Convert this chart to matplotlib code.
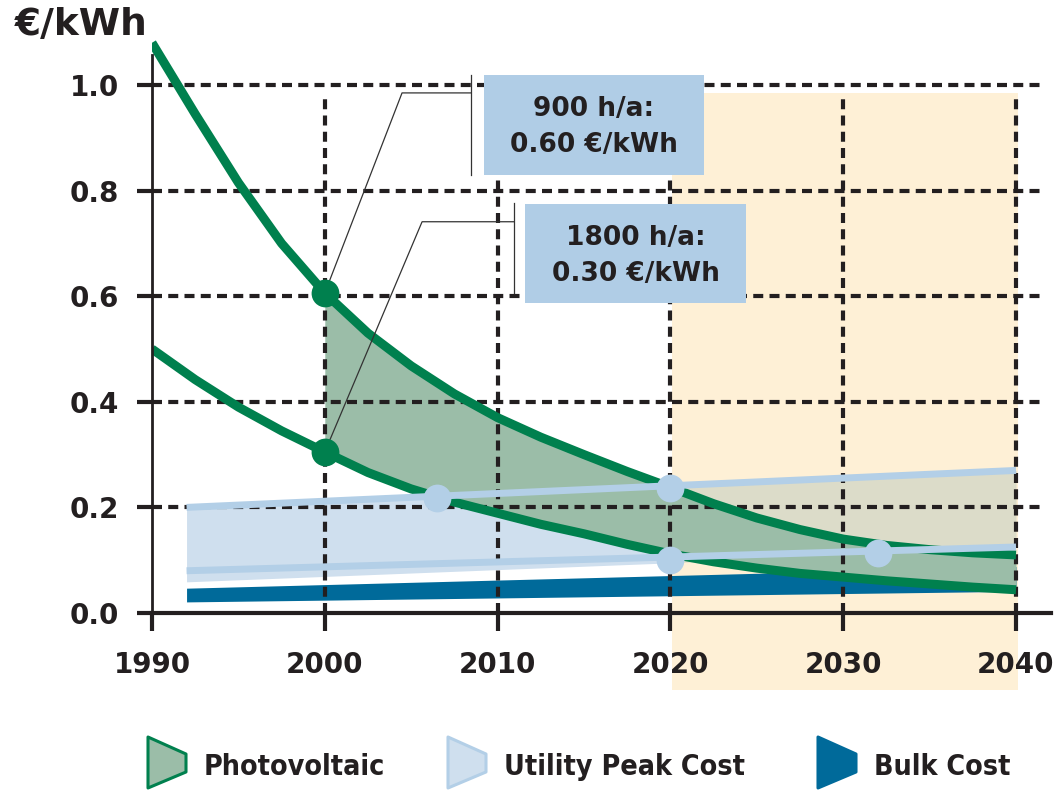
import numpy as np
import matplotlib
matplotlib.use('Agg')
import matplotlib.pyplot as plt
from matplotlib.patches import Rectangle, Polygon

# --- data ---
years = np.array([1990, 1992.5, 1995, 1997.5, 2000, 2002.5, 2005, 2007.5, 2010, 2012.5,
                  2015, 2017.5, 2020, 2022.5, 2025, 2027.5, 2030, 2032.5, 2035, 2037.5, 2040])
pv_900 = np.array([1.08, 0.945, 0.815, 0.70, 0.606, 0.53, 0.468, 0.415, 0.37, 0.333,
                   0.30, 0.268, 0.238, 0.207, 0.18, 0.158, 0.14, 0.128, 0.12, 0.114, 0.11])
pv_1800 = np.array([0.50, 0.442, 0.39, 0.345, 0.305, 0.266, 0.235, 0.21, 0.189, 0.168,
                    0.15, 0.13, 0.112, 0.097, 0.085, 0.075, 0.068, 0.061, 0.055, 0.049, 0.044])

util_years = np.array([1992, 2020, 2040])
util_high = np.array([0.20, 0.241, 0.27])
util_low = np.array([0.08, 0.106, 0.125])
util_band_bottom = np.array([0.059, 0.095, 0.125])

bulk_years = np.array([1992, 2040])
bulk_high = np.array([0.047, 0.088])
bulk_low = np.array([0.021, 0.041])

pv_mark_x = [2000, 2000]
pv_mark_y = [0.606, 0.305]
cross_x = [2006.5, 2020, 2020, 2032]
cross_y = [0.218, 0.236, 0.100, 0.114]

x_ticks = [1990, 2000, 2010, 2020, 2030, 2040]
y_ticks = [0.0, 0.2, 0.4, 0.6, 0.8, 1.0]
callouts = ['900 h/a:\n0.60 €/kWh', '1800 h/a:\n0.30 €/kWh']
legend_labels = ['Photovoltaic', 'Utility Peak Cost', 'Bulk Cost']

# colours
GREEN = '#00804e'
PV_FILL = '#9bbda8'
LBLUE = '#b3cfe7'
UTIL_FILL = '#cfdfee'
UTIL_ON_BEIGE = '#dcdcc9'
BULK = '#006a9a'
BEIGE = '#fef0d6'
BOX = '#b0cde6'
INK = '#231f20'

fig = plt.figure(figsize=(10.61, 7.9), dpi=100)
ax = fig.add_axes([0.14326, 0.22405, 0.8469, 0.7352])
ax.set_xlim(1990, 2042)
ax.set_ylim(0, 1.1)

# future region
ax.add_patch(Rectangle((2020.1, -0.145), 20.0, 1.13, facecolor=BEIGE,
                       edgecolor='none', zorder=0, clip_on=False))

# bands
ax.fill_between(util_years[:2], util_band_bottom[:2], util_high[:2],
                color=UTIL_FILL, lw=0, zorder=1)
ax.fill_between(util_years[1:], util_band_bottom[1:], util_high[1:],
                color=UTIL_ON_BEIGE, lw=0, zorder=1)
ax.fill_between(bulk_years, bulk_low, bulk_high, color=BULK, lw=0, zorder=2)
ax.fill_between(years, pv_1800, pv_900, where=years >= 2000,
                color=PV_FILL, lw=0, zorder=3)

# dashed grid
dash = (0, (2.4, 1.5))
ax.hlines(y_ticks[1:], 1990, 2041.4, colors=INK, lw=3, linestyles=[dash], zorder=4)
ax.vlines(x_ticks[1:], 0, 0.985, colors=INK, lw=3, linestyles=[dash], zorder=4)

# curves
ax.plot(years, pv_900, color=GREEN, lw=6.5, solid_capstyle='butt',
        solid_joinstyle='round', zorder=5)
ax.plot(years, pv_1800, color=GREEN, lw=6.5, solid_capstyle='butt',
        solid_joinstyle='round', zorder=5)
ax.plot(util_years, util_high, color=LBLUE, lw=5, solid_capstyle='butt', zorder=6)
ax.plot(util_years, util_low, color=LBLUE, lw=5, solid_capstyle='butt', zorder=6)
ax.plot(cross_x, cross_y, 'o', color=LBLUE, ms=20, mec='none', zorder=7)
ax.plot(pv_mark_x, pv_mark_y, 'o', color=GREEN, ms=20, mec='none', zorder=7)

# callouts with leader lines
ax.plot([pv_mark_x[0], 2004.47, 2008.46], [pv_mark_y[0], 0.985, 0.985],
        color='#333333', lw=0.9, zorder=6)
ax.plot([2008.46, 2008.46], [1.019, 0.83], color='#333333', lw=0.9, zorder=6)
ax.plot([pv_mark_x[1], 2005.63, 2010.95], [pv_mark_y[1], 0.741, 0.741],
        color='#333333', lw=0.9, zorder=6)
ax.plot([2010.95, 2010.95], [0.777, 0.606], color='#333333', lw=0.9, zorder=6)

boxes = [(2009.21, 0.83, 12.73, 0.189), (2011.59, 0.587, 12.79, 0.188)]
for (bx, by, bw, bh), txt in zip(boxes, callouts):
    ax.add_patch(Rectangle((bx, by), bw, bh, facecolor=BOX, edgecolor='none', zorder=8))
    ax.text(bx + bw / 2, by + bh / 2 - 0.004, txt, ha='center', va='center',
            fontsize=19, fontweight='bold', color=INK, linespacing=1.5, zorder=9)

# axes styling
for s in ['top', 'right']:
    ax.spines[s].set_visible(False)
ax.spines['left'].set_linewidth(2)
ax.spines['left'].set_bounds(0, 1.057)
ax.spines['bottom'].set_linewidth(3)
ax.spines['left'].set_color(INK)
ax.spines['bottom'].set_color(INK)
ax.spines['left'].set_zorder(9)
ax.spines['bottom'].set_zorder(9)

ax.set_xticks(x_ticks)
ax.set_xticklabels([str(x) for x in x_ticks])
ax.set_yticks(y_ticks)
ax.set_yticklabels(['%.1f' % y for y in y_ticks])
ax.tick_params(axis='x', length=13, width=3, pad=14, color=INK, labelcolor=INK, labelsize=20)
ax.tick_params(axis='y', length=11, width=3, pad=13, color=INK, labelcolor=INK, labelsize=20)
for lab in ax.get_xticklabels() + ax.get_yticklabels():
    lab.set_fontweight('bold')

fig.text(0.014, 0.968, '€/kWh', fontsize=27, fontweight='bold', color=INK,
         ha='left', va='center')

# legend drawn in pixel space
lax = fig.add_axes([0, 0, 1, 1], zorder=-1)
lax.set_xlim(0, 1061)
lax.set_ylim(790, 0)
lax.axis('off')
legend_x = [148, 448, 818]
legend_face = [PV_FILL, UTIL_FILL, BULK]
legend_edge = [GREEN, LBLUE, BULK]
for x0, lab, fc, ec in zip(legend_x, legend_labels, legend_face, legend_edge):
    shape = [(x0, 737), (x0 + 38, 754), (x0 + 38, 772), (x0, 788)]
    lax.add_patch(Polygon(shape, closed=True, facecolor=fc, edgecolor=ec,
                          lw=2.2, joinstyle='round'))
    lax.text(x0 + 56, 767, lab, fontsize=20.5, fontweight='bold', color=INK,
             ha='left', va='center', family='DejaVu Sans', fontstretch='condensed')

fig.savefig('out.png', dpi=100)
